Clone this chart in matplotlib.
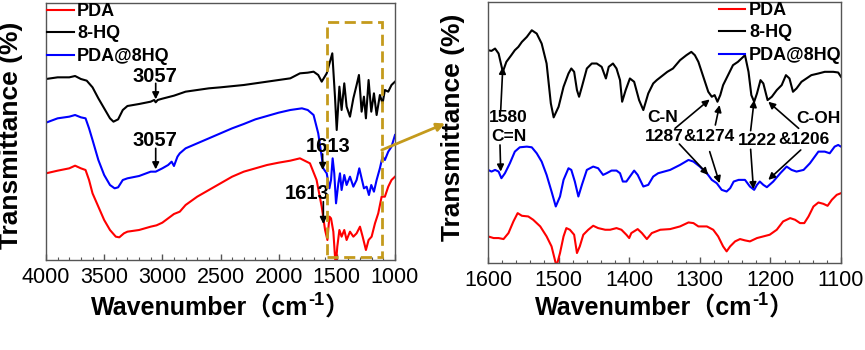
import matplotlib
matplotlib.use("Agg")
import matplotlib.pyplot as plt
from matplotlib.patches import Rectangle, ConnectionPatch

# ---------------- data: full-range spectra (left panel) ----------------
wn_8hq_full = [4000, 3900, 3800, 3750, 3700, 3650, 3600, 3550, 3500, 3450, 3420, 3380, 3340, 3300,
               3200, 3100, 3070, 3057, 3040, 3000, 2900, 2800, 2700, 2600, 2500, 2300, 2100, 2000,
               1900, 1817, 1750, 1700, 1660, 1630, 1587, 1539, 1516, 1501, 1478, 1459, 1436, 1416,
               1387, 1358, 1330, 1310, 1287, 1267, 1250, 1227, 1204, 1181, 1158, 1130, 1107, 1087,
               1058, 1030, 1000]
t_8hq_full = [563, 568, 568, 572, 563, 558, 538, 505, 475, 445, 435, 442, 470, 482,
              488, 495, 500, 493, 500, 504, 513, 525, 530, 535, 538, 545, 555, 560,
              565, 580, 582, 585, 575, 555, 580, 640, 510, 410, 540, 470, 550, 480,
              450, 505, 545, 575, 465, 510, 445, 560, 465, 520, 455, 515, 490, 530,
              525, 545, 555]

wn_pda8hq_full = [4000, 3900, 3800, 3750, 3700, 3660, 3630, 3600, 3550, 3500, 3450, 3410, 3380, 3340,
                  3300, 3200, 3100, 3057, 3000, 2950, 2920, 2900, 2870, 2850, 2800, 2700, 2600, 2500,
                  2400, 2300, 2200, 2100, 2000, 1900, 1800, 1750, 1700, 1660, 1630, 1617, 1587, 1564,
                  1550, 1536, 1522, 1507, 1487, 1473, 1459, 1436, 1416, 1387, 1358, 1330, 1307, 1287,
                  1267, 1244, 1224, 1204, 1181, 1158, 1130, 1107, 1087, 1058, 1030, 1000]
t_pda8hq_full = [432, 445, 450, 455, 448, 445, 415, 380, 320, 275, 245, 235, 238, 260,
                 265, 272, 285, 285, 295, 305, 315, 302, 330, 340, 355, 370, 385, 400,
                 415, 428, 442, 452, 462, 470, 475, 470, 455, 400, 330, 295, 280, 235,
                 260, 325, 280, 190, 250, 280, 230, 275, 245, 270, 240, 260, 295, 265,
                 235, 240, 215, 245, 225, 260, 295, 330, 320, 345, 360, 395]

wn_pda_full = [4000, 3900, 3800, 3750, 3700, 3660, 3630, 3600, 3550, 3500, 3450, 3400, 3370, 3330,
               3300, 3200, 3100, 3050, 3000, 2950, 2900, 2850, 2800, 2700, 2600, 2500, 2400, 2300,
               2200, 2100, 2000, 1900, 1817, 1731, 1674, 1630, 1601, 1581, 1564, 1550, 1530, 1510,
               1496, 1478, 1459, 1436, 1416, 1387, 1358, 1330, 1301, 1278, 1250, 1227, 1201, 1172,
               1144, 1115, 1087, 1058, 1030, 1000]
t_pda_full = [280, 288, 295, 303, 295, 290, 260, 220, 180, 140, 110, 90, 88, 100,
              105, 110, 120, 124, 132, 145, 158, 165, 185, 210, 230, 250, 270, 285,
              295, 305, 312, 318, 325, 310, 260, 180, 110, 80, 150, 145, 105, 0,
              60, 110, 90, 110, 80, 105, 90, 100, 120, 90, 50, 80, 90, 130,
              160, 210, 210, 240, 260, 270]

# ---------------- data: 1600-1100 detail (right panel) ----------------
wn_8hq = [1600, 1595, 1590, 1585, 1579, 1574, 1567, 1562, 1557, 1552, 1545, 1538, 1531, 1524,
          1517, 1511, 1507, 1500, 1493, 1486, 1482, 1478, 1474, 1471, 1467, 1460, 1453, 1446,
          1439, 1433, 1429, 1423, 1418, 1413, 1410, 1405, 1399, 1393, 1386, 1380, 1373, 1366,
          1361, 1352, 1346, 1338, 1328, 1319, 1312, 1307, 1302, 1295, 1288, 1283, 1279, 1275,
          1271, 1267, 1260, 1253, 1246, 1241, 1236, 1231, 1227, 1223, 1219, 1214, 1210, 1204,
          1198, 1191, 1184, 1178, 1173, 1168, 1163, 1156, 1149, 1142, 1132, 1123, 1111, 1104, 1100]
t_8hq = [650, 648, 655, 640, 585, 615, 635, 650, 660, 675, 690, 710, 700, 670,
         610, 490, 448, 480, 540, 580, 595, 585, 530, 510, 540, 595, 610, 610,
         600, 565, 600, 610, 595, 560, 495, 530, 565, 555, 500, 470, 520, 550,
         560, 575, 585, 595, 620, 635, 645, 635, 615, 570, 525, 510, 515, 495,
         515, 545, 575, 605, 615, 625, 635, 585, 515, 495, 520, 560, 550, 500,
         510, 530, 545, 575, 565, 525, 535, 555, 565, 575, 580, 585, 585, 583, 570]

wn_pda8hq = [1600, 1595, 1590, 1585, 1581, 1576, 1569, 1562, 1555, 1545, 1538, 1531, 1524, 1517,
             1510, 1504, 1498, 1493, 1486, 1482, 1477, 1472, 1467, 1460, 1451, 1444, 1437, 1432,
             1425, 1418, 1413, 1409, 1404, 1399, 1393, 1388, 1380, 1373, 1366, 1359, 1342, 1328,
             1316, 1309, 1300, 1290, 1283, 1276, 1269, 1262, 1257, 1252, 1245, 1236, 1229, 1223,
             1219, 1215, 1210, 1205, 1196, 1186, 1177, 1170, 1163, 1153, 1144, 1132, 1123, 1116,
             1109, 1104, 1100]
t_pda8hq = [290, 285, 290, 285, 265, 280, 310, 345, 358, 360, 358, 340, 315, 275,
            225, 180, 210, 260, 295, 290, 255, 210, 245, 290, 300, 295, 275, 280,
            288, 288, 280, 255, 255, 270, 288, 275, 240, 245, 270, 280, 290, 305,
            320, 315, 300, 280, 260, 250, 230, 225, 235, 255, 260, 260, 240, 230,
            245, 255, 245, 238, 255, 280, 300, 290, 285, 290, 310, 345, 345, 340,
            360, 365, 360]

wn_pda = [1600, 1592, 1585, 1578, 1571, 1564, 1558, 1552, 1543, 1536, 1526, 1517, 1510, 1503,
          1498, 1493, 1489, 1484, 1478, 1474, 1470, 1465, 1458, 1451, 1444, 1434, 1427, 1418,
          1411, 1404, 1400, 1397, 1388, 1382, 1375, 1368, 1356, 1342, 1328, 1316, 1309, 1302,
          1290, 1281, 1274, 1267, 1262, 1257, 1250, 1243, 1236, 1229, 1219, 1210, 1201, 1191,
          1182, 1172, 1165, 1158, 1152, 1146, 1139, 1132, 1125, 1119, 1113, 1106, 1100]
t_pda = [90, 85, 85, 82, 100, 135, 160, 152, 150, 140, 120, 90, 60, 0,
         40, 90, 115, 110, 95, 40, 60, 95, 110, 122, 115, 110, 110, 115,
         110, 95, 85, 100, 112, 100, 82, 100, 110, 112, 120, 132, 130, 120,
         120, 110, 90, 60, 45, 60, 75, 82, 78, 75, 85, 90, 95, 110,
         135, 145, 140, 130, 130, 150, 180, 192, 188, 182, 200, 215, 220]

series_names = ["PDA", "8-HQ", "PDA@8HQ"]
series_colors = ["#ff0000", "#000000", "#0000ff"]

left_ticks = [4000, 3500, 3000, 2500, 2000, 1500, 1000]
right_ticks = [1600, 1500, 1400, 1300, 1200, 1100]

# ---------------- figure ----------------
W, H = 865, 350
fig = plt.figure(figsize=(W / 100, H / 100), dpi=100)
FAM = ["Liberation Sans", "Noto Sans CJK SC", "DejaVu Sans"]
plt.rcParams["font.family"] = FAM
GOLD = "#c49a1c"
SPINE = "#555555"


def px_axes(l, r, t, b):
    return [l / W, (H - b) / H, (r - l) / W, (b - t) / H]


ax1 = fig.add_axes(px_axes(46, 395, 3, 260))
ax2 = fig.add_axes(px_axes(488, 841, 2, 263))

lw = 1.5
ax1.plot(wn_pda_full, t_pda_full, color=series_colors[0], lw=lw, label=series_names[0])
ax1.plot(wn_8hq_full, t_8hq_full, color=series_colors[1], lw=lw, label=series_names[1])
ax1.plot(wn_pda8hq_full, t_pda8hq_full, color=series_colors[2], lw=lw, label=series_names[2])

ax2.plot(wn_pda, t_pda, color=series_colors[0], lw=lw, label=series_names[0])
ax2.plot(wn_8hq, t_8hq, color=series_colors[1], lw=lw, label=series_names[1])
ax2.plot(wn_pda8hq, t_pda8hq, color=series_colors[2], lw=lw, label=series_names[2])

ax1.set_xlim(4000, 1000)
ax1.set_ylim(20, 791)
ax2.set_xlim(1600, 1100)
ax2.set_ylim(10, 795)

ax1.set_xticks(left_ticks)
ax1.set_xticks(range(1000, 4001, 100), minor=True)
ax2.set_xticks(right_ticks)
ax2.set_xticks(range(1100, 1601, 20), minor=True)

for ax in (ax1, ax2):
    ax.set_yticks([])
    for s in ax.spines.values():
        s.set_color(SPINE)
        s.set_linewidth(1.0)
    ax.tick_params(axis="x", which="major", direction="in", length=4, width=1,
                   color=SPINE, labelsize=15.5, pad=5)
    ax.tick_params(axis="x", which="minor", direction="in", length=2.5, width=0.8, color=SPINE)
    ax.set_ylabel("Transmittance (%)", fontsize=19, fontweight="bold")

ax1.yaxis.set_label_coords(-0.066, 0.486)
ax2.yaxis.set_label_coords(-0.065, 0.519)

leg_kw = dict(loc="upper left", frameon=False, borderaxespad=0, borderpad=0,
              handlelength=1.45, handletextpad=0.2, labelspacing=0.3,
              prop=dict(weight="bold", size=13, family=FAM))
ax1.legend(bbox_to_anchor=(0.004, 1.0), **leg_kw)
ax2.legend(bbox_to_anchor=(0.655, 1.0), **leg_kw)

# ---------------- left annotations ----------------
akw = dict(arrowstyle="-|>", color="black", lw=1.2, mutation_scale=10, shrinkA=0, shrinkB=0)
tkw = dict(fontsize=14.5, fontweight="bold", ha="center", va="center")

ax1.text(3063, 572, "3057", **tkw)
ax1.annotate("", xy=(3057, 502), xytext=(3057, 550), arrowprops=akw)
ax1.text(3063, 380, "3057", **tkw)
ax1.annotate("", xy=(3057, 292), xytext=(3057, 355), arrowprops=akw)
ax1.text(1573, 360, "1613", **tkw)
ax1.annotate("", xy=(1622, 290), xytext=(1622, 338), arrowprops=akw)
ax1.text(1754, 220, "1613", **tkw)
ax1.annotate("", xy=(1616, 128), xytext=(1616, 195), arrowprops=akw)

box = Rectangle((1587, 30), 1114 - 1587, 735 - 30, fill=False, edgecolor=GOLD,
                lw=2.0, linestyle=(0, (4, 2)), zorder=5)
ax1.add_patch(box)

con = ConnectionPatch(xyA=(1114, 350), coordsA=ax1.transData,
                      xyB=(445 / W, (H - 123.5) / H), coordsB=fig.transFigure,
                      arrowstyle="-|>", color=GOLD, lw=2.0, mutation_scale=12)
fig.add_artist(con)

# ---------------- right annotations ----------------
rkw = dict(fontsize=12.5, fontweight="bold", ha="center", va="center")
ax2.text(1571, 448, "1580", **rkw)
ax2.text(1570, 390, "C=N", **rkw)
ax2.text(1352, 448, "C-N", **rkw)
ax2.text(1350, 390, "1287", **rkw)
ax2.text(1287, 390, "&1274", **rkw)
ax2.text(1218, 378, "1222", **rkw)
ax2.text(1152, 380, "&1206", **rkw)
ax2.text(1132, 445, "C-OH", **rkw)

arrows_r = [
    ((1582, 470), (1579, 600)),
    ((1583, 365), (1582, 285)),
    ((1335, 415), (1286, 502)),
    ((1329, 368), (1288, 275)),
    ((1278, 425), (1272, 485)),
    ((1286, 345), (1272, 250)),
    ((1228, 408), (1223, 500)),
    ((1228, 352), (1224, 232)),
    ((1160, 415), (1203, 495)),
    ((1157, 350), (1203, 260)),
]
for tail, head in arrows_r:
    ax2.annotate("", xy=head, xytext=tail, arrowprops=akw)

# ---------------- x labels (with raised -1) ----------------
fig.canvas.draw()
renderer = fig.canvas.get_renderer()


def wn_label(ax, baseline_px):
    parts = [("Wavenumber（cm", 18, 0), ("-1", 13, 10), ("）", 18, 0)]
    objs = []
    for s, size, dy in parts:
        t = fig.text(0, 0, s, fontsize=size, fontweight="bold", family=FAM,
                     ha="left", va="baseline")
        objs.append((t, dy))
    widths = [t.get_window_extent(renderer).width for t, _ in objs]
    bb = ax.get_window_extent(renderer)
    x = (bb.x0 + bb.x1) / 2 - sum(widths) / 2
    for (t, dy), w in zip(objs, widths):
        t.set_position((x / W, (H - baseline_px + dy) / H))
        x += w


wn_label(ax1, 315)
wn_label(ax2, 315)

fig.savefig("out.png", dpi=100)
